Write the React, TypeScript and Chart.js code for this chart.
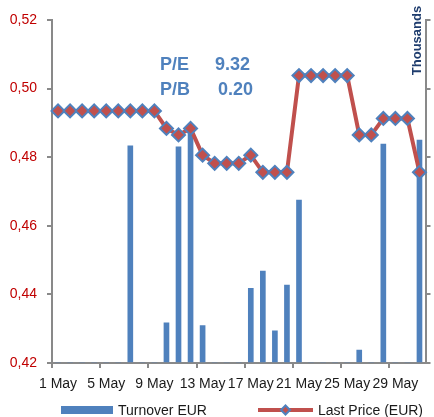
import React, { useEffect, useRef } from 'react';
import { Chart, registerables } from 'chart.js';

Chart.register(...registerables);

const days = [
  '1 May', '2 May', '3 May', '4 May', '5 May', '6 May', '7 May', '8 May', '9 May', '10 May',
  '11 May', '12 May', '13 May', '14 May', '15 May', '16 May', '17 May', '18 May', '19 May', '20 May',
  '21 May', '22 May', '23 May', '24 May', '25 May', '26 May', '27 May', '28 May', '29 May', '30 May', '31 May',
];

const lastPrice = [
  0.4935, 0.4935, 0.4935, 0.4935, 0.4935, 0.4935, 0.4935, 0.4935, 0.4935, 0.4884,
  0.4865, 0.4884, 0.4806, 0.4782, 0.4782, 0.4782, 0.4806, 0.4756, 0.4756, 0.4756,
  0.5038, 0.5038, 0.5038, 0.5038, 0.5038, 0.4865, 0.4865, 0.4913, 0.4913, 0.4913, 0.4756,
];

// Turnover in thousands EUR (right axis scale labels are not visible in the reference)
const turnover = [
  0, 0, 0, 0, 0, 0, 63.3, 0, 0, 11.7,
  63.0, 67.9, 10.9, 0, 0, 0, 21.8, 26.8, 9.4, 22.7,
  47.5, 0, 0, 0, 0, 3.8, 0, 63.8, 0, 0, 65.0,
];

const priceTicks = { min: 0.42, max: 0.52, step: 0.02 };
const turnoverTicks = { min: 0, max: 100, step: 20 };
const labelEvery = 4;

const ratioLabels = ['P/E', 'P/B'];
const ratioValues = ['9.32', '0.20'];
const rightAxisTitle = 'Thousands';
const legendBar = 'Turnover EUR';
const legendLine = 'Last Price (EUR)';

const BLUE = '#4f81bd';
const RED = '#c0504d';
const AXIS = '#898989';
const FONT = '"Liberation Sans", Arial, sans-serif';

const overlayPlugin = {
  id: 'overlay',
  afterDraw(chart: any) {
    const ctx = chart.ctx as CanvasRenderingContext2D;
    ctx.save();
    // P/E, P/B annotation
    ctx.font = `bold 18px ${FONT}`;
    ctx.fillStyle = BLUE;
    ctx.textAlign = 'left';
    ctx.textBaseline = 'alphabetic';
    ctx.fillText(ratioLabels[0], 160, 69.5);
    ctx.fillText(ratioValues[0], 215, 69.5);
    ctx.fillText(ratioLabels[1], 160, 94.5);
    ctx.fillText(ratioValues[1], 218, 94.5);

    // right axis title
    ctx.save();
    ctx.font = `bold 13px ${FONT}`;
    ctx.fillStyle = '#1f3d6e';
    ctx.translate(420.5, 40.5);
    ctx.rotate(-Math.PI / 2);
    ctx.textAlign = 'center';
    ctx.fillText(rightAxisTitle, 0, 0);
    ctx.restore();

    // legend
    const ly = 410;
    ctx.fillStyle = BLUE;
    ctx.fillRect(61, ly - 4, 52, 8);
    ctx.font = `14px ${FONT}`;
    ctx.fillStyle = '#1a1a1a';
    ctx.textAlign = 'left';
    ctx.fillText(legendBar, 118, 414.5);

    ctx.strokeStyle = RED;
    ctx.lineWidth = 4;
    ctx.beginPath();
    ctx.moveTo(258, ly);
    ctx.lineTo(313, ly);
    ctx.stroke();
    const cx = 285.5;
    const r = 4.5;
    ctx.beginPath();
    ctx.moveTo(cx - r, ly);
    ctx.lineTo(cx, ly - r);
    ctx.lineTo(cx + r, ly);
    ctx.lineTo(cx, ly + r);
    ctx.closePath();
    ctx.fillStyle = RED;
    ctx.fill();
    ctx.lineWidth = 2;
    ctx.strokeStyle = BLUE;
    ctx.stroke();
    ctx.fillStyle = '#1a1a1a';
    ctx.fillText(legendLine, 318, 414.5);
    ctx.restore();
  },
};

export default function App() {
  const ref = useRef<HTMLCanvasElement | null>(null);

  useEffect(() => {
    if (!ref.current) return;
    Chart.defaults.font.family = FONT;
    const chart = new Chart(ref.current, {
      type: 'bar',
      data: {
        labels: days,
        datasets: [
          {
            type: 'line',
            label: legendLine,
            data: lastPrice,
            yAxisID: 'y',
            order: 0,
            borderColor: RED,
            borderWidth: 4,
            tension: 0,
            pointStyle: 'rectRot',
            pointRadius: 6.5,
            pointBackgroundColor: RED,
            pointBorderColor: BLUE,
            pointBorderWidth: 2,
          } as any,
          {
            type: 'bar',
            label: legendBar,
            data: turnover,
            yAxisID: 'y1',
            order: 1,
            backgroundColor: BLUE,
            barThickness: 5,
          },
        ],
      },
      options: {
        animation: false,
        responsive: false,
        maintainAspectRatio: false,
        layout: { padding: { top: 20, bottom: 24, left: 0, right: 0 } },
        plugins: {
          legend: { display: false },
          tooltip: { enabled: false },
          title: { display: false },
        },
        scales: {
          x: {
            type: 'category',
            offset: true,
            grid: {
              offset: true,
              drawOnChartArea: false,
              drawTicks: true,
              tickLength: 5,
              lineWidth: 2,
              color: (c: any) => (c.index % labelEvery === 0 ? AXIS : 'rgba(0,0,0,0)'),
            },
            border: { color: AXIS, width: 2 },
            ticks: {
              autoSkip: false,
              maxRotation: 0,
              minRotation: 0,
              padding: 8,
              color: '#1a1a1a',
              font: { size: 14 },
              callback: (_v: any, i: number) => (i % labelEvery === 0 ? days[i] : ''),
            },
            afterFit: (s: any) => {
              s.height = 30;
            },
          },
          y: {
            type: 'linear',
            position: 'left',
            min: priceTicks.min,
            max: priceTicks.max,
            grid: { drawOnChartArea: false, drawTicks: true, tickLength: 5, color: AXIS, lineWidth: 2 },
            border: { color: AXIS, width: 2 },
            ticks: {
              stepSize: priceTicks.step,
              padding: 10,
              color: '#c00000',
              font: { size: 14 },
              callback: (v: any) => Number(v).toFixed(2).replace('.', ','),
            },
            afterFit: (s: any) => {
              s.width = 52;
            },
          },
          y1: {
            type: 'linear',
            position: 'right',
            min: turnoverTicks.min,
            max: turnoverTicks.max,
            grid: { drawOnChartArea: false, drawTicks: true, tickLength: 5, color: AXIS, lineWidth: 2 },
            border: { color: AXIS, width: 2 },
            ticks: { stepSize: turnoverTicks.step, display: false },
            afterFit: (s: any) => {
              s.width = 5;
            },
          },
        },
      },
      plugins: [overlayPlugin],
    });
    return () => chart.destroy();
  }, []);

  return (
    <div style={{ position: 'absolute', left: 0, top: 0, width: 434, height: 417, background: '#fff' }}>
      <canvas ref={ref} width={434} height={417} style={{ display: 'block', width: 434, height: 417 }} />
    </div>
  );
}
